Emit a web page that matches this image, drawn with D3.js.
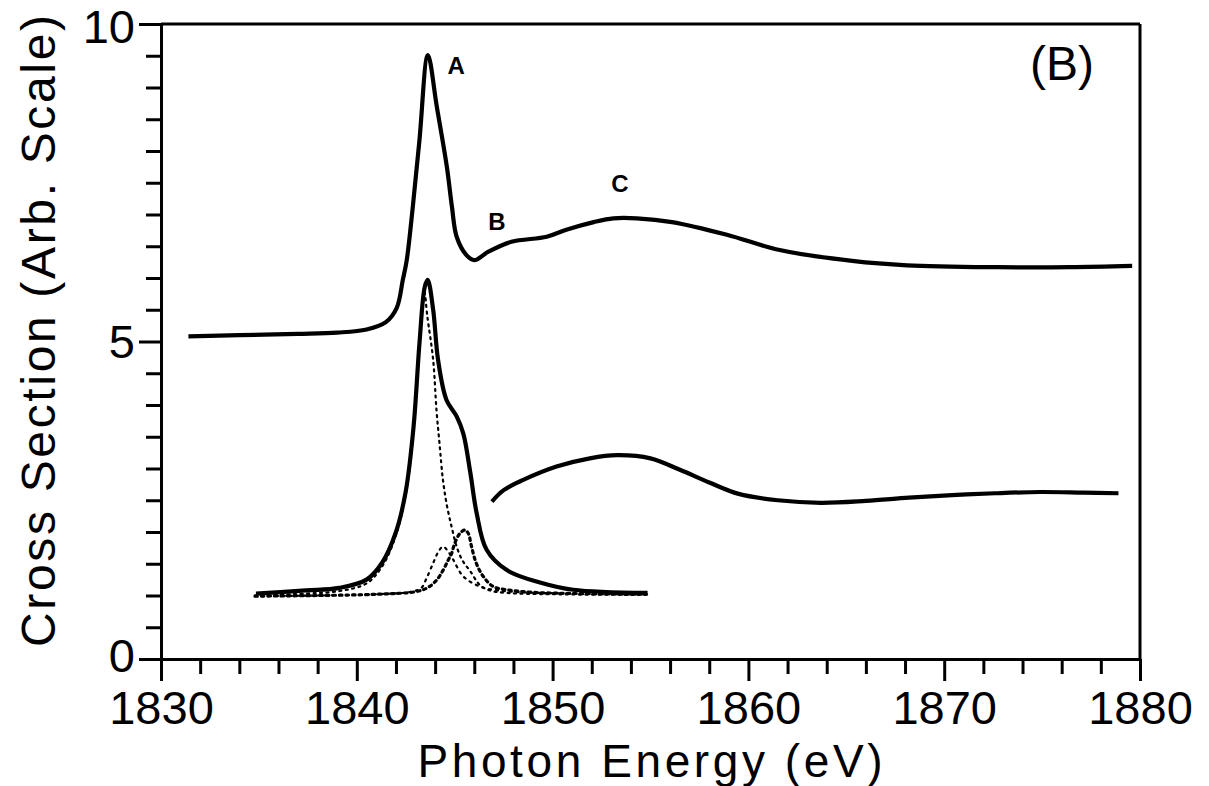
<!DOCTYPE html>
<html>
<head>
<meta charset="utf-8">
<script src="https://cdn.jsdelivr.net/npm/d3@7"></script>
<style>
  html, body { margin: 0; padding: 0; background: #fff; }
  svg { display: block; }
  text { font-family: "Liberation Sans", Arial, Helvetica, sans-serif; fill: #000; }
</style>
</head>
<body>
<svg id="chart" width="1209" height="786"></svg>
<script>
// ---------------- data ----------------
const xMajorTicks = [1830, 1840, 1850, 1860, 1870, 1880];
const yMajorTicks = [0, 5, 10];
const xTitle = "Photon Energy (eV)";
const yTitle = "Cross Section (Arb. Scale)";
const panelLabel = "(B)";
const peakLabels = ["A", "B", "C"];
const peakLabelE = [1845.07, 1847.16, 1853.44];
const peakLabelV = [9.21, 6.76, 7.35];

// upper spectrum (solid)
const upperE = [1831.4, 1834.0, 1837.0, 1839.0, 1840.5, 1841.5, 1842.04, 1842.35, 1842.55, 1842.86, 1843.2, 1843.63,
                1844.09, 1844.6, 1844.86, 1845.1, 1845.6, 1846.0, 1846.7, 1847.9, 1849.7, 1850.7, 1852.1, 1853.1,
                1854.3, 1856.1, 1858.9, 1861.6, 1865.3, 1868.1, 1872.7, 1876.4, 1879.6];
const upperV = [5.08, 5.10, 5.12, 5.14, 5.19, 5.31, 5.53, 5.97, 6.28, 7.12, 8.17, 9.51,
                8.69, 7.75, 7.12, 6.65, 6.36, 6.28, 6.41, 6.57, 6.65, 6.76, 6.88, 6.94,
                6.94, 6.88, 6.68, 6.44, 6.27, 6.20, 6.17, 6.17, 6.19];

// lower edge spectrum (solid)
const lowerE = [1834.85, 1837.4, 1839.1, 1840.5, 1841.3, 1842.0, 1842.5, 1842.9, 1843.2, 1843.47, 1843.62, 1843.9,
                1844.15, 1844.58, 1845.1, 1845.44, 1845.8, 1846.12, 1846.63, 1847.66, 1849.4, 1851.05, 1854.85];
const lowerV = [1.03, 1.08, 1.12, 1.25, 1.52, 2.00, 2.64, 3.66, 4.97, 5.86, 5.97, 5.50,
                4.71, 4.08, 3.82, 3.55, 2.93, 2.30, 1.72, 1.40, 1.20, 1.09, 1.04];

// lower continuum (solid)
const contE = [1846.9, 1847.5, 1848.5, 1850.2, 1851.9, 1853.3, 1855.0, 1856.5, 1858.0, 1859.5, 1861.5, 1863.7,
               1866.0, 1868.2, 1870.4, 1872.6, 1874.9, 1877.1, 1878.9];
const contV = [2.48, 2.66, 2.82, 3.03, 3.16, 3.21, 3.16, 2.98, 2.78, 2.60, 2.50, 2.46,
               2.49, 2.54, 2.58, 2.61, 2.63, 2.62, 2.61];

// fitted components (dotted)
const comp1E = [1834.8, 1837.4, 1839.1, 1840.5, 1841.3, 1842.0, 1842.5, 1842.9, 1843.2, 1843.45, 1843.6, 1843.9,
                1844.07, 1844.24, 1844.4, 1844.6, 1844.86, 1845.1, 1845.4, 1845.8, 1846.3, 1846.8, 1847.7, 1850.0, 1854.8];
const comp1V = [1.00, 1.03, 1.07, 1.19, 1.46, 1.95, 2.60, 3.60, 4.92, 5.78, 5.40, 4.71,
                3.92, 3.34, 2.82, 2.42, 2.06, 1.77, 1.55, 1.38, 1.16, 1.08, 1.04, 1.02, 1.01];

const comp2E = [1834.8, 1838.0, 1841.0, 1842.8, 1843.3, 1843.56, 1843.9, 1844.15, 1844.4, 1844.65, 1844.93, 1845.44,
                1846.3, 1847.2, 1848.5, 1851.0, 1854.8];
const comp2V = [0.99, 1.00, 1.02, 1.06, 1.12, 1.27, 1.51, 1.68, 1.77, 1.70, 1.56, 1.30,
                1.14, 1.08, 1.05, 1.03, 1.02];

const comp3E = [1834.8, 1838.0, 1841.0, 1843.0, 1843.6, 1844.07, 1844.41, 1844.67, 1844.84, 1845.0, 1845.27, 1845.52,
                1845.69, 1845.86, 1846.1, 1846.46, 1846.97, 1847.66, 1849.0, 1851.5, 1854.8];
const comp3V = [0.99, 1.00, 1.02, 1.06, 1.12, 1.24, 1.40, 1.56, 1.66, 1.82, 1.98, 2.03,
                1.98, 1.77, 1.51, 1.30, 1.14, 1.09, 1.05, 1.03, 1.02];

// ---------------- drawing ----------------
const svg = d3.select("#chart");
const x = d3.scaleLinear().domain([1830, 1880]).range([161, 1140]);
const y = d3.scaleLinear().domain([0, 10]).range([659, 24]);

const zip = (E, V) => E.map((e, i) => [e, V[i]]);
const line = d3.line().x(d => x(d[0])).y(d => y(d[1])).curve(d3.curveCatmullRom.alpha(0.5));

const xMinor = d3.range(1830, 1880.1, 2).filter(v => !xMajorTicks.includes(v));
const yMinor = d3.range(0, 10.01, 0.5).filter(v => !yMajorTicks.includes(v));

// frame (top and right)
svg.append("line").attr("x1", x(1830)).attr("x2", x(1880)).attr("y1", y(10)).attr("y2", y(10))
  .attr("stroke", "#000").attr("stroke-width", 3);
svg.append("line").attr("x1", x(1880)).attr("x2", x(1880)).attr("y1", y(10)).attr("y2", y(0))
  .attr("stroke", "#000").attr("stroke-width", 3);

// x axis
const gx = svg.append("g").attr("transform", `translate(0,${y(0)})`);
gx.call(d3.axisBottom(x).tickValues(xMajorTicks).tickSizeInner(22).tickSizeOuter(0).tickPadding(10).tickFormat(d3.format("d")));
gx.selectAll(".tick text").attr("font-size", 47);
const gxm = svg.append("g").attr("transform", `translate(0,${y(0)})`);
gxm.call(d3.axisBottom(x).tickValues(xMinor).tickSizeInner(15).tickSizeOuter(0).tickFormat(""));

// y axis
const gy = svg.append("g").attr("transform", `translate(${x(1830)},0)`);
gy.call(d3.axisLeft(y).tickValues(yMajorTicks).tickSizeInner(22).tickSizeOuter(0).tickPadding(4).tickFormat(d3.format("d")));
gy.selectAll(".tick text").attr("font-size", 47)
  .attr("dy", d => d === 10 ? "0.39em" : (d === 0 ? "0.27em" : "0.34em"));
const gym = svg.append("g").attr("transform", `translate(${x(1830)},0)`);
gym.call(d3.axisLeft(y).tickValues(yMinor).tickSizeInner(15).tickSizeOuter(0).tickFormat(""));

svg.selectAll(".domain").attr("stroke", "#000").attr("stroke-width", 3);
svg.selectAll(".tick line").attr("stroke", "#000").attr("stroke-width", 3);
svg.selectAll(".tick text").attr("font-family", "Liberation Sans, Arial, sans-serif").attr("fill", "#000");

// dotted components
const dotted = [
  { data: zip(comp2E, comp2V), w: 2.2, dash: "2 5" },
  { data: zip(comp1E, comp1V), w: 2.2, dash: "2 4.5" },
  { data: zip(comp3E, comp3V), w: 3.2, dash: "2.5 4" }
];
svg.append("g").selectAll("path").data(dotted).join("path")
  .attr("d", d => line(d.data))
  .attr("fill", "none").attr("stroke", "#000")
  .attr("stroke-width", d => d.w)
  .attr("stroke-dasharray", d => d.dash)
  .attr("stroke-linecap", "round");

// solid spectra
const solids = [zip(upperE, upperV), zip(lowerE, lowerV), zip(contE, contV)];
svg.append("g").selectAll("path").data(solids).join("path")
  .attr("d", d => line(d))
  .attr("fill", "none").attr("stroke", "#000")
  .attr("stroke-width", 4.2)
  .attr("stroke-linejoin", "round")
  .attr("stroke-linecap", "butt");

// peak labels
svg.append("g").selectAll("text").data(peakLabels).join("text")
  .attr("x", (d, i) => x(peakLabelE[i]))
  .attr("y", (d, i) => y(peakLabelV[i]))
  .attr("text-anchor", "middle")
  .attr("font-size", 24).attr("font-weight", "bold")
  .text(d => d);

// panel label
svg.append("text").attr("x", 1030).attr("y", 80).attr("font-size", 48).text(panelLabel);

// axis titles
svg.append("text").attr("x", 650).attr("y", 777).attr("text-anchor", "middle")
  .attr("font-size", 46).attr("textLength", 465).attr("lengthAdjust", "spacing").text(xTitle);
svg.append("text").attr("transform", "translate(55,331) rotate(-90)").attr("text-anchor", "middle")
  .attr("font-size", 48).attr("textLength", 632).attr("lengthAdjust", "spacing").text(yTitle);
</script>
</body>
</html>
